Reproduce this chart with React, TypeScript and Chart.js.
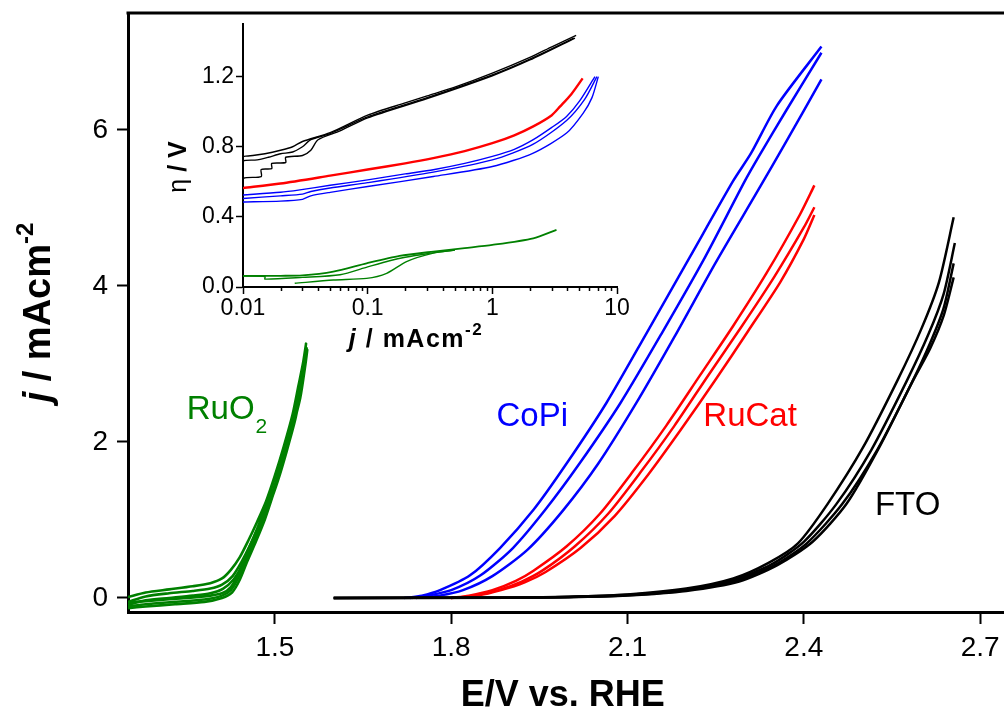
import React, { useEffect, useRef } from "react";
import { Chart, registerables } from "chart.js";

Chart.register(...registerables);

const FONT = '"Liberation Sans", Arial, Helvetica, sans-serif';

// ---------- main axes ----------
const X_TICKS = [1.5, 1.8, 2.1, 2.4, 2.7];
const Y_TICKS = [0, 2, 4, 6];
const X_RANGE = [1.25, 2.75];
const Y_RANGE = [-0.18, 7.5];

// ---------- main data: E (V vs RHE), j (mA cm^-2) ----------
const ruo2Cycle1: number[][] = [
  [1.25, 0.01], [1.28, 0.07], [1.32, 0.11], [1.36, 0.15], [1.39, 0.19], [1.41, 0.25], [1.425, 0.36],
  [1.44, 0.52], [1.455, 0.74], [1.47, 0.98], [1.485, 1.24], [1.5, 1.57], [1.515, 1.94], [1.53, 2.35],
  [1.54, 2.72], [1.548, 3.02], [1.553, 3.26], [1.55, 3.1], [1.54, 2.62], [1.525, 2.18], [1.51, 1.78],
  [1.495, 1.42], [1.48, 1.08], [1.465, 0.8], [1.45, 0.54], [1.437, 0.3], [1.425, 0.14], [1.41, 0.06],
  [1.38, 0.02], [1.33, -0.01], [1.28, -0.04], [1.25, -0.06],
];
const ruo2Cycle2: number[][] = [
  [1.25, -0.05], [1.28, 0.02], [1.32, 0.06], [1.36, 0.09], [1.39, 0.12], [1.41, 0.17], [1.428, 0.28],
  [1.443, 0.46], [1.458, 0.68], [1.473, 0.93], [1.488, 1.2], [1.503, 1.52], [1.518, 1.9], [1.533, 2.32],
  [1.543, 2.7], [1.55, 3.0], [1.554, 3.2], [1.551, 3.05], [1.542, 2.6], [1.527, 2.15], [1.512, 1.75],
  [1.497, 1.38], [1.482, 1.04], [1.467, 0.76], [1.452, 0.5], [1.438, 0.26], [1.425, 0.1], [1.41, 0.03],
  [1.38, -0.02], [1.33, -0.05], [1.28, -0.08], [1.25, -0.11],
];
const ruo2Cycle3: number[][] = [
  [1.25, -0.09], [1.28, -0.03], [1.32, 0.0], [1.36, 0.03], [1.39, 0.06], [1.412, 0.12], [1.43, 0.24],
  [1.445, 0.42], [1.46, 0.64], [1.475, 0.9], [1.49, 1.18], [1.505, 1.5], [1.52, 1.88], [1.535, 2.3],
  [1.545, 2.7], [1.551, 2.98], [1.555, 3.18], [1.552, 3.0], [1.543, 2.56], [1.528, 2.12], [1.513, 1.72],
  [1.498, 1.35], [1.483, 1.01], [1.468, 0.73], [1.453, 0.47], [1.44, 0.23], [1.427, 0.07], [1.41, 0.0],
  [1.38, -0.05], [1.33, -0.08], [1.28, -0.11], [1.25, -0.13],
];

const copiScan1: number[][] = [
  [1.72, 0], [1.75, 0.03], [1.781, 0.1], [1.832, 0.29], [1.883, 0.64], [1.94, 1.13], [1.996, 1.72],
  [2.064, 2.5], [2.132, 3.39], [2.206, 4.37], [2.28, 5.35], [2.31, 5.7], [2.354, 6.31], [2.43, 7.07],
];
const copiScan2: number[][] = [
  [1.73, 0], [1.76, 0.03], [1.8, 0.1], [1.85, 0.29], [1.905, 0.64], [1.96, 1.13], [2.018, 1.72],
  [2.088, 2.5], [2.158, 3.39], [2.232, 4.37], [2.3, 5.35], [2.325, 5.68], [2.37, 6.25], [2.43, 6.99],
];
const copiScan3: number[][] = [
  [1.74, 0], [1.78, 0.03], [1.82, 0.1], [1.87, 0.28], [1.93, 0.62], [1.99, 1.12], [2.05, 1.72],
  [2.115, 2.5], [2.18, 3.35], [2.25, 4.3], [2.32, 5.2], [2.37, 5.85], [2.43, 6.65],
];

const rucatScan1: number[][] = [
  [1.8, 0], [1.83, 0.03], [1.87, 0.1], [1.91, 0.22], [1.94, 0.35], [1.996, 0.66], [2.053, 1.08],
  [2.109, 1.62], [2.166, 2.21], [2.223, 2.85], [2.28, 3.49], [2.337, 4.17], [2.393, 4.91], [2.418, 5.29],
];
const rucatScan2: number[][] = [
  [1.8, 0], [1.84, 0.03], [1.88, 0.1], [1.92, 0.21], [1.955, 0.35], [2.01, 0.66], [2.067, 1.08],
  [2.123, 1.62], [2.18, 2.21], [2.237, 2.85], [2.295, 3.49], [2.35, 4.12], [2.4, 4.75], [2.418, 5.01],
];
const rucatScan3: number[][] = [
  [1.8, 0], [1.845, 0.03], [1.885, 0.1], [1.925, 0.2], [1.96, 0.33], [2.02, 0.64], [2.078, 1.05],
  [2.135, 1.58], [2.19, 2.15], [2.25, 2.8], [2.305, 3.42], [2.36, 4.05], [2.4, 4.6], [2.418, 4.91],
];

const ftoScan1: number[][] = [
  [1.6, 0], [1.9, 0.005], [2.0, 0.015], [2.1, 0.045], [2.2, 0.12], [2.28, 0.25], [2.34, 0.45],
  [2.39, 0.7], [2.44, 1.2], [2.5, 1.92], [2.56, 2.8], [2.6, 3.45], [2.63, 4.05], [2.655, 4.88],
];
const ftoScan2: number[][] = [
  [1.6, 0], [1.9, 0.004], [2.0, 0.013], [2.1, 0.04], [2.2, 0.11], [2.28, 0.23], [2.345, 0.43],
  [2.4, 0.72], [2.455, 1.2], [2.515, 1.9], [2.575, 2.78], [2.612, 3.38], [2.638, 3.9], [2.657, 4.55],
];
const ftoScan3: number[][] = [
  [1.6, 0], [1.9, 0.004], [2.0, 0.012], [2.1, 0.035], [2.2, 0.1], [2.285, 0.22], [2.35, 0.42],
  [2.405, 0.7], [2.465, 1.2], [2.525, 1.9], [2.583, 2.75], [2.615, 3.27], [2.638, 3.72], [2.655, 4.29],
];
const ftoScan4: number[][] = [
  [1.6, 0], [1.9, 0.003], [2.0, 0.01], [2.1, 0.032], [2.2, 0.09], [2.29, 0.21], [2.355, 0.42],
  [2.415, 0.72], [2.473, 1.21], [2.529, 1.94], [2.586, 2.79], [2.615, 3.2], [2.638, 3.62], [2.655, 4.11],
];

// ---------- inset axes ----------
const INSET_X_TICKS = [0.01, 0.1, 1, 10];
const INSET_X_LABELS = ["0.01", "0.1", "1", "10"];
const INSET_X_MINOR = [
  0.02, 0.03, 0.04, 0.05, 0.06, 0.07, 0.08, 0.09,
  0.2, 0.3, 0.4, 0.5, 0.6, 0.7, 0.8, 0.9,
  2, 3, 4, 5, 6, 7, 8, 9,
];
const INSET_Y_TICKS = [0, 0.4, 0.8, 1.2];
const INSET_X_RANGE = [0.01, 10];
const INSET_Y_RANGE = [0, 1.5];

// ---------- inset data: j (mA cm^-2), overpotential (V) ----------
const ftoTafel1: number[][] = [
  [0.01, 0.745], [0.012, 0.75], [0.015, 0.76], [0.02, 0.78], [0.025, 0.8], [0.03, 0.83], [0.05, 0.88],
  [0.1, 0.98], [0.2, 1.05], [0.3, 1.09], [0.5, 1.14], [1, 1.22], [2, 1.31], [3, 1.37], [4.7, 1.435],
];
const ftoTafel2: number[][] = [
  [0.01, 0.7], [0.01, 0.72], [0.013, 0.725], [0.016, 0.74], [0.02, 0.76], [0.025, 0.77], [0.03, 0.8],
  [0.035, 0.84], [0.05, 0.875], [0.1, 0.97], [0.3, 1.08], [1, 1.21], [2, 1.3], [4.5, 1.42],
];
const ftoTafel3: number[][] = [
  [0.01, 0.57], [0.0101, 0.62], [0.014, 0.63], [0.014, 0.67], [0.017, 0.675], [0.017, 0.705],
  [0.022, 0.71], [0.022, 0.74], [0.03, 0.75], [0.035, 0.78], [0.04, 0.84], [0.06, 0.89], [0.1, 0.965],
  [0.3, 1.075], [1, 1.205], [2, 1.295], [4.6, 1.42],
];
const rucatTafel: number[][] = [
  [0.01, 0.565], [0.02, 0.59], [0.05, 0.635], [0.1, 0.67], [0.2, 0.705], [0.336, 0.735], [0.6, 0.775],
  [1, 0.82], [1.5, 0.865], [2.13, 0.916], [3, 0.98], [3.5, 1.03], [4.3, 1.1], [5.3, 1.19],
];
const copiTafel1: number[][] = [
  [0.01, 0.525], [0.02, 0.54], [0.0286, 0.554], [0.05, 0.58], [0.1, 0.611], [0.2, 0.645], [0.336, 0.669],
  [0.6, 0.705], [1, 0.745], [1.5, 0.785], [2.13, 0.84], [3, 0.91], [3.94, 0.973], [5, 1.06], [6.65, 1.2],
];
const copiTafel2: number[][] = [
  [0.01, 0.505], [0.02, 0.52], [0.03, 0.53], [0.035, 0.545], [0.05, 0.565], [0.1, 0.595], [0.336, 0.655],
  [1, 0.725], [2.13, 0.815], [3.94, 0.95], [5.5, 1.07], [6.9, 1.2],
];
const copiTafel3: number[][] = [
  [0.01, 0.485], [0.02, 0.49], [0.03, 0.5], [0.035, 0.52], [0.05, 0.54], [0.1, 0.573], [0.336, 0.63],
  [1, 0.687], [2.13, 0.764], [3.94, 0.878], [5.36, 0.992], [6.3, 1.08], [7.08, 1.2],
];
const ruo2Tafel1: number[][] = [
  [0.01, 0.063], [0.02, 0.064], [0.03, 0.066], [0.053, 0.088], [0.098, 0.135], [0.18, 0.177],
  [0.336, 0.202], [0.6, 0.222], [1, 0.24], [2.13, 0.278], [3.27, 0.326],
];
const ruo2Tafel2: number[][] = [
  [0.026, 0.021], [0.053, 0.04], [0.098, 0.049], [0.142, 0.078], [0.205, 0.145], [0.336, 0.193], [0.5, 0.21],
];
const ruo2Tafel3: number[][] = [
  [0.01, 0.063], [0.015, 0.06], [0.015, 0.045], [0.03, 0.055], [0.06, 0.07], [0.1, 0.115], [0.15, 0.15],
  [0.2, 0.17], [0.3, 0.19], [0.5, 0.21],
];

// ---------- labels ----------
const CURVE_LABELS = [
  { text: "RuO", sub: "2", e: 1.35, j: 2.3, color: "#008000" },
  { text: "CoPi", sub: "", e: 1.877, j: 2.21, color: "#0000ff" },
  { text: "RuCat", sub: "", e: 2.229, j: 2.21, color: "#ff0000" },
  { text: "FTO", sub: "", e: 2.521, j: 1.064, color: "#000000" },
];

const GREEN = "#008000";
const BLUE = "#0000ff";
const RED = "#ff0000";
const BLACK = "#000000";

function mk(points: number[][], color: string, width: number) {
  return {
    data: points.map(([x, y]) => ({ x, y })),
    showLine: true,
    borderColor: color,
    backgroundColor: color,
    borderWidth: width,
    pointRadius: 0,
    tension: 0.25,
    fill: false,
  };
}

function drawParts(
  ctx: CanvasRenderingContext2D,
  parts: { t: string; font: string; dy?: number }[],
  cx: number,
  cy: number,
  spacing = "0px"
) {
  (ctx as any).letterSpacing = spacing;
  let total = 0;
  for (const p of parts) {
    ctx.font = p.font;
    total += ctx.measureText(p.t).width;
  }
  let x = cx - total / 2;
  for (const p of parts) {
    ctx.font = p.font;
    ctx.fillText(p.t, x, cy + (p.dy || 0));
    x += ctx.measureText(p.t).width;
  }
  (ctx as any).letterSpacing = "0px";
}

function zeroPad(s: any) {
  s.paddingTop = 0;
  s.paddingBottom = 0;
  s.paddingLeft = 0;
  s.paddingRight = 0;
}

const MAIN_W = 1012;
const MAIN_H = 713;
const INSET_LEFT = 150;
const INSET_TOP = 14;
const INSET_W = 480;
const INSET_H = 350;

export default function App() {
  const mainRef = useRef<HTMLCanvasElement>(null);
  const insetRef = useRef<HTMLCanvasElement>(null);

  useEffect(() => {
    const framePlugin = {
      id: "frame",
      afterDraw(chart: any) {
        const { ctx, chartArea: a } = chart;
        ctx.save();
        ctx.strokeStyle = "#000";
        ctx.lineWidth = 3;
        ctx.beginPath();
        ctx.moveTo(a.left - 1.5, a.top);
        ctx.lineTo(a.right, a.top);
        ctx.lineTo(a.right, a.bottom);
        ctx.stroke();
        ctx.fillStyle = "#000";
        ctx.textAlign = "left";
        ctx.textBaseline = "alphabetic";
        drawParts(ctx, [{ t: "E/V vs. RHE", font: `bold 36px ${FONT}` }], (a.left + a.right) / 2 - 6, 706);
        ctx.save();
        ctx.translate(50, (a.top + a.bottom) / 2);
        ctx.rotate(-Math.PI / 2);
        drawParts(
          ctx,
          [
            { t: "j", font: `italic bold 38px ${FONT}` },
            { t: " / mAcm", font: `bold 38px ${FONT}` },
            { t: "-2", font: `bold 24px ${FONT}`, dy: -17 },
          ],
          0,
          0
        );
        ctx.restore();
        const xs = chart.scales.x;
        const ys = chart.scales.y;
        for (const l of CURVE_LABELS) {
          const px = xs.getPixelForValue(l.e);
          const py = ys.getPixelForValue(l.j);
          ctx.fillStyle = l.color;
          ctx.font = `33px ${FONT}`;
          ctx.fillText(l.text, px, py);
          if (l.sub) {
            const w = ctx.measureText(l.text).width;
            ctx.font = `21px ${FONT}`;
            ctx.fillText(l.sub, px + w + 1, py + 14);
          }
        }
        ctx.restore();
      },
    };

    const main = new Chart(mainRef.current!, {
      type: "scatter",
      data: {
        datasets: [
          mk(ftoScan1, BLACK, 2.5), mk(ftoScan2, BLACK, 2.5), mk(ftoScan3, BLACK, 2.5), mk(ftoScan4, BLACK, 2.5),
          mk(rucatScan1, RED, 2.5), mk(rucatScan2, RED, 2.5), mk(rucatScan3, RED, 2.5),
          mk(copiScan1, BLUE, 2.5), mk(copiScan2, BLUE, 2.5), mk(copiScan3, BLUE, 2.5),
          mk(ruo2Cycle1, GREEN, 2.6), mk(ruo2Cycle2, GREEN, 2.6), mk(ruo2Cycle3, GREEN, 2.6),
        ] as any,
      },
      options: {
        responsive: false,
        animation: false,
        events: [],
        layout: { padding: { left: 0, top: 13, right: 2.5, bottom: 0 } },
        plugins: { legend: { display: false }, tooltip: { enabled: false } },
        scales: {
          x: {
            type: "linear",
            min: X_RANGE[0],
            max: X_RANGE[1],
            afterBuildTicks: (axis: any) => {
              axis.ticks = X_TICKS.map((v) => ({ value: v }));
            },
            afterFit: (s: any) => {
              s.height = 101;
              zeroPad(s);
            },
            ticks: {
              color: "#000",
              font: { family: FONT, size: 28 },
              padding: 7,
              maxRotation: 0,
              autoSkip: false,
              callback: (v: any) => Number(v).toFixed(1),
            },
            grid: { drawOnChartArea: false, drawTicks: true, tickLength: 12, tickWidth: 2, tickColor: "#000" },
            border: { display: true, color: "#000", width: 3 },
          },
          y: {
            type: "linear",
            min: Y_RANGE[0],
            max: Y_RANGE[1],
            afterBuildTicks: (axis: any) => {
              axis.ticks = Y_TICKS.map((v) => ({ value: v }));
            },
            afterFit: (s: any) => {
              s.width = 128;
              zeroPad(s);
            },
            ticks: {
              color: "#000",
              font: { family: FONT, size: 28 },
              padding: 9,
              autoSkip: false,
              callback: (v: any) => String(v),
            },
            grid: { drawOnChartArea: false, drawTicks: true, tickLength: 11, tickWidth: 2, tickColor: "#000" },
            border: { display: true, color: "#000", width: 3 },
          },
        },
      },
      plugins: [framePlugin],
    } as any);

    const insetPlugin = {
      id: "insetDecor",
      afterDraw(chart: any) {
        const { ctx, chartArea: a } = chart;
        const xs = chart.scales.x;
        ctx.save();
        ctx.strokeStyle = "#000";
        ctx.lineWidth = 1.5;
        for (const v of INSET_X_MINOR) {
          const px = Math.round(xs.getPixelForValue(v)) + 0.5;
          ctx.beginPath();
          ctx.moveTo(px, a.bottom);
          ctx.lineTo(px, a.bottom + 4);
          ctx.stroke();
        }
        ctx.fillStyle = "#000";
        ctx.textBaseline = "alphabetic";
        drawParts(
          ctx,
          [
            { t: "j", font: `italic bold 25px ${FONT}` },
            { t: " / mAcm", font: `bold 25px ${FONT}` },
            { t: "-2", font: `bold 17px ${FONT}`, dy: -12 },
          ],
          (a.left + a.right) / 2 - 14,
          333,
          "1.5px"
        );
        ctx.save();
        ctx.translate(36, 153);
        ctx.rotate(-Math.PI / 2);
        drawParts(
          ctx,
          [
            { t: "η", font: `25px ${FONT}` },
            { t: " / V", font: `bold 25px ${FONT}` },
          ],
          0,
          0
        );
        ctx.restore();
        ctx.restore();
      },
    };

    const inset = new Chart(insetRef.current!, {
      type: "scatter",
      data: {
        datasets: [
          mk(ftoTafel1, BLACK, 1.4), mk(ftoTafel2, BLACK, 1.4), mk(ftoTafel3, BLACK, 1.4),
          mk(copiTafel1, BLUE, 1.4), mk(copiTafel2, BLUE, 1.4), mk(copiTafel3, BLUE, 1.4),
          mk(rucatTafel, RED, 2.4),
          mk(ruo2Tafel1, GREEN, 1.8), mk(ruo2Tafel2, GREEN, 1.4), mk(ruo2Tafel3, GREEN, 1.4),
        ] as any,
      },
      options: {
        responsive: false,
        animation: false,
        events: [],
        layout: { padding: { left: 0, top: 10, right: 13, bottom: 0 } },
        plugins: { legend: { display: false }, tooltip: { enabled: false } },
        elements: { line: { tension: 0.15 } },
        scales: {
          x: {
            type: "logarithmic",
            min: INSET_X_RANGE[0],
            max: INSET_X_RANGE[1],
            afterBuildTicks: (axis: any) => {
              axis.ticks = INSET_X_TICKS.map((v) => ({ value: v }));
            },
            afterFit: (s: any) => {
              s.height = 77;
              zeroPad(s);
            },
            ticks: {
              color: "#000",
              font: { family: FONT, size: 23 },
              padding: 1,
              maxRotation: 0,
              autoSkip: false,
              callback: (_v: any, i: number) => INSET_X_LABELS[i],
            },
            grid: { drawOnChartArea: false, drawTicks: true, tickLength: 7, tickWidth: 1.5, tickColor: "#000" },
            border: { display: true, color: "#000", width: 2 },
          },
          y: {
            type: "linear",
            min: INSET_Y_RANGE[0],
            max: INSET_Y_RANGE[1],
            afterBuildTicks: (axis: any) => {
              axis.ticks = INSET_Y_TICKS.map((v) => ({ value: v }));
            },
            afterFit: (s: any) => {
              s.width = 93;
              zeroPad(s);
            },
            ticks: {
              color: "#000",
              font: { family: FONT, size: 23 },
              padding: 2,
              autoSkip: false,
              callback: (v: any) => Number(v).toFixed(1),
            },
            grid: { drawOnChartArea: false, drawTicks: true, tickLength: 7, tickWidth: 1.5, tickColor: "#000" },
            border: { display: true, color: "#000", width: 2 },
          },
        },
      },
      plugins: [insetPlugin],
    } as any);

    return () => {
      main.destroy();
      inset.destroy();
    };
  }, []);

  return (
    <div
      style={{
        position: "fixed",
        left: 0,
        top: 0,
        width: 1004,
        height: 713,
        overflow: "hidden",
        background: "#ffffff",
      }}
    >
      <canvas ref={mainRef} width={MAIN_W} height={MAIN_H} style={{ position: "absolute", left: 0, top: 0 }} />
      <canvas
        ref={insetRef}
        width={INSET_W}
        height={INSET_H}
        style={{ position: "absolute", left: INSET_LEFT, top: INSET_TOP }}
      />
    </div>
  );
}
